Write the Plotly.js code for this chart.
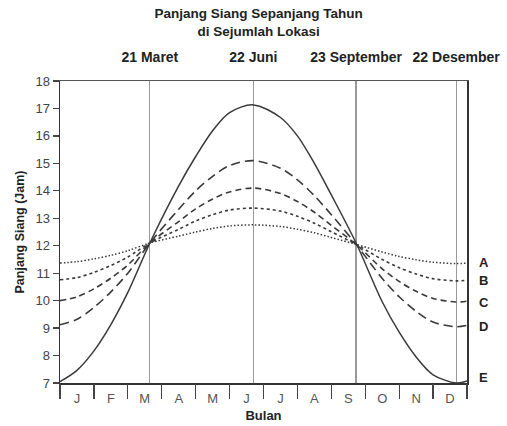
<!DOCTYPE html>
<html><head><meta charset="utf-8">
<script src="https://cdn.plot.ly/plotly-3.0.1.min.js"></script>
<style>html,body{margin:0;padding:0;background:#fff}#chart{width:507px;height:426px}</style>
</head><body><div id="chart"></div>
<script>
// x position in months from 1 January (0 = start of Jan, 12 = end of Dec)
const monthPos = [0, 0.5, 1, 1.5, 2, 2.65, 3.5, 4, 4.5, 5, 5.7, 6.5, 7, 7.5, 8, 8.73, 9.5, 10, 10.5, 11, 11.68, 12];
const seriesA = [11.37, 11.42, 11.52, 11.65, 11.82, 12.1, 12.35, 12.5, 12.63, 12.72, 12.76, 12.7, 12.6, 12.47, 12.3, 12.05, 11.77, 11.61, 11.49, 11.4, 11.35, 11.37];
const seriesB = [10.76, 10.84, 11.03, 11.28, 11.59, 12.1, 12.6, 12.9, 13.13, 13.3, 13.37, 13.26, 13.07, 12.82, 12.51, 12.05, 11.5, 11.2, 10.97, 10.8, 10.72, 10.74];
const seriesC = [10.0, 10.14, 10.43, 10.82, 11.3, 12.1, 12.88, 13.34, 13.7, 13.96, 14.1, 13.9, 13.61, 13.22, 12.74, 12.05, 11.16, 10.7, 10.34, 10.08, 9.95, 9.98];
const seriesD = [9.12, 9.32, 9.75, 10.32, 11.0, 12.1, 13.33, 14.0, 14.53, 14.92, 15.1, 14.82, 14.4, 13.82, 13.13, 12.05, 10.81, 10.14, 9.61, 9.22, 9.05, 9.1];
const seriesE = [7.05, 7.46, 8.17, 9.13, 10.3, 12.1, 14.18, 15.25, 16.19, 16.85, 17.13, 16.67, 16.0, 15.0, 13.85, 12.1, 9.96, 8.85, 7.95, 7.3, 7.0, 7.07];

const monthLabels = ['J','F','M','A','M','J','J','A','S','O','N','D'];
const monthCenters = [0.5,1.5,2.5,3.5,4.5,5.5,6.5,7.5,8.5,9.5,10.5,11.5];
const monthBounds = [0,1,2,3,4,5,6,7,8,9,10,11,12];
const keyDates = [2.65, 5.7, 8.73, 11.68];
const keyDateLabels = ['21 Maret', '22 Juni', '23 September', '22 Desember'];
const curveLabels = ['A','B','C','D','E'];
const curveLabelY = [11.4, 10.72, 9.95, 9.05, 7.2];
const yTicks = [7,8,9,10,11,12,13,14,15,16,17,18];

const lineColor = '#3a3a3a';
const mk = (y, dash, w) => ({x: monthPos, y: y, type: 'scatter', mode: 'lines',
  line: {color: lineColor, width: w, dash: dash, shape: 'spline', smoothing: 0.9},
  hoverinfo: 'skip', showlegend: false});

const data = [
  mk(seriesA, '1.5px,2px', 1.5),
  mk(seriesB, '3px,3px', 1.6),
  mk(seriesC, '6px,4px', 1.6),
  mk(seriesD, '9px,5px', 1.6),
  mk(seriesE, 'solid', 1.5),
  {x: [0,12], y: [7,7], xaxis: 'x3', yaxis: 'y2', type: 'scatter', mode: 'lines',
   line: {width: 0}, hoverinfo: 'skip', showlegend: false}
];
data[0].xaxis = 'x2';

const font = 'Liberation Sans, Arial, sans-serif';
const layout = {
  width: 507, height: 426,
  margin: {l: 60, r: 40, t: 81, b: 43},
  paper_bgcolor: '#fff', plot_bgcolor: '#fff',
  font: {family: font, color: '#333', size: 13},
  title: {text: '<b>Panjang Siang Sepanjang Tahun<br>di Sejumlah Lokasi</b>',
    font: {family: font, size: 13.5, color: '#222'}, x: 0.51, xanchor: 'center',
    yref: 'container', y: 0.957, yanchor: 'top'},
  xaxis: {range: [0, 12], tickvals: monthCenters, ticktext: monthLabels, ticks: '',
    showgrid: false, zeroline: false, showline: true, linecolor: '#333', linewidth: 1.5,
    tickfont: {size: 13, color: '#555'}, ticklabelstandoff: 3,
    title: {text: '<b>Bulan</b>', font: {size: 13, color: '#222'}, standoff: 6}},
  xaxis2: {overlaying: 'x', side: 'top', range: [0, 12], tickvals: keyDates,
    ticktext: keyDateLabels.map(s => '<b>' + s + '</b>'),
    ticks: 'outside', ticklen: 12, tickcolor: 'rgba(0,0,0,0)', showgrid: true, gridcolor: '#9a9a9a', gridwidth: 1.2,
    showline: true, linecolor: '#555', linewidth: 1, zeroline: false,
    tickfont: {size: 14, color: '#222', family: font}, anchor: 'y'},
  xaxis3: {overlaying: 'x', side: 'bottom', range: [0, 12], tickvals: monthBounds, ticktext: monthBounds.map(() => ''),
    ticks: 'outside', ticklen: 15, tickcolor: '#444', tickwidth: 1.3, showgrid: false, zeroline: false,
    showline: false, showticklabels: false, anchor: 'y'},
  yaxis: {range: [7, 18], tickvals: yTicks, ticks: 'outside', ticklen: 6, tickcolor: '#444', tickwidth: 1.3,
    showgrid: false, zeroline: false, showline: true, linecolor: '#333', linewidth: 1.5,
    tickfont: {size: 13, color: '#444'},
    title: {text: '<b>Panjang Siang (Jam)</b>', font: {size: 12.5, color: '#222'}, standoff: 8}},
  yaxis2: {overlaying: 'y', side: 'right', range: [7, 18], tickvals: curveLabelY,
    ticktext: curveLabels.map(s => '<b>' + s + '</b>'),
    ticks: '', showgrid: false, zeroline: false, showline: true, linecolor: '#333', linewidth: 1.5,
    tickfont: {size: 13, color: '#222', family: font}, ticklabelstandoff: 8, anchor: 'x'}
};
Plotly.newPlot('chart', data, layout, {staticPlot: true, displayModeBar: false});
</script></body></html>
